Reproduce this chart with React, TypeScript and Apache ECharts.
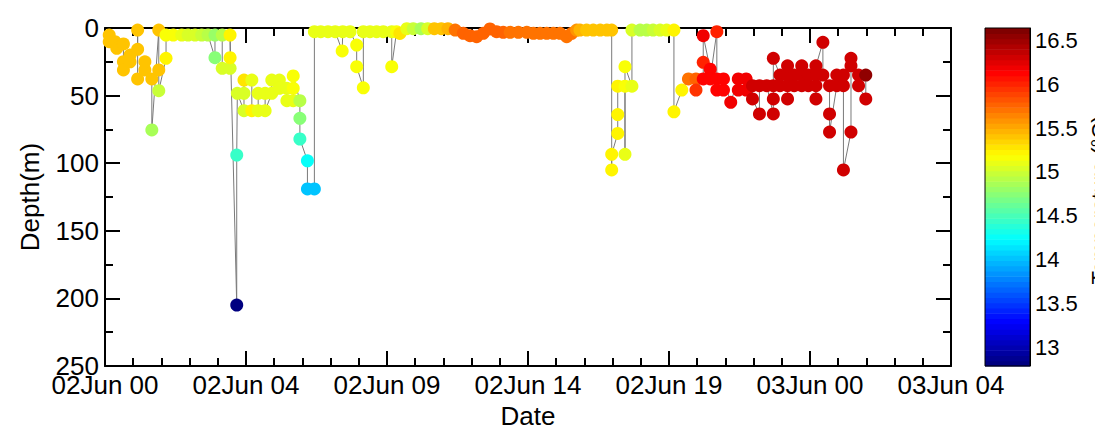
import React, { useEffect, useRef } from "react";
import * as echarts from "echarts";

// ---- axis / tick labels ----
const xTickLabels = ["02Jun 00", "02Jun 04", "02Jun 09", "02Jun 14", "02Jun 19", "03Jun 00", "03Jun 04"];
const xMaxMinutes = 1680; // 28 hours span
const xTickStepMinutes = 280;
const colorbarTicks = [13, 13.5, 14, 14.5, 15, 15.5, 16, 16.5];
const colorbarLabel = "Temperature (°C)";
const CMIN = 12.79;
const CMAX = 16.64;
const N_LEVELS = 64;

// ---- data: hours since 02Jun 00, depth (m), temperature (°C) ----
const timeH = [
  0.14, 0.14, 0.33, 0.39, 0.61, 0.61, 0.61, 0.83, 0.83, 1.08, 1.08, 1.08, 1.32, 1.32, 1.55, 1.55, 1.78, 1.78, 1.78, 2.02, 2.02,
  2.26, 2.54, 2.75, 2.98, 3.2, 3.41, 3.64, 3.64, 3.88, 3.88, 4.14, 4.14, 4.14, 4.36, 4.36, 4.38,
  4.6, 4.6, 4.6, 4.86, 4.86, 5.07, 5.07, 5.3, 5.3, 5.52, 5.52, 5.77, 5.77, 6.02, 6.02, 6.23, 6.23, 6.23, 6.45, 6.45, 6.45, 6.7, 6.7, 6.93, 6.93,
  7.14, 7.38, 7.62, 7.85, 7.87, 8.11, 8.33, 8.33, 8.55, 8.55, 8.77, 8.99, 9.21, 9.49, 9.49, 9.65, 9.76,
  9.99, 10.2, 10.46, 10.68, 10.9, 11.13, 11.35, 11.59,
  11.86, 12.08, 12.3, 12.52, 12.74, 12.96, 13.18, 13.41, 13.68, 13.96, 14.18, 14.4, 14.62, 14.84, 15.06, 15.28, 15.45, 15.61,
  15.72, 15.94, 16.16, 16.39, 16.61, 16.77, 16.77, 16.77, 16.97, 16.97, 16.97, 17.21, 17.21, 17.21, 17.44, 17.44, 17.71, 17.93, 18.14, 18.37, 18.59, 18.83, 18.83, 19.09,
  19.31, 19.56, 19.56, 19.8, 19.8, 19.8, 20.03, 20.03, 20.25, 20.25, 20.25, 20.47, 20.47, 20.71, 20.96, 20.96, 21.22, 21.22, 21.43, 21.43, 21.66, 21.66, 21.9,
  22.12, 22.12, 22.12, 22.12, 22.34, 22.34, 22.59, 22.59, 22.59, 22.59, 22.81, 22.81, 23.06, 23.06, 23.06, 23.28, 23.28, 23.53, 23.53, 23.53, 23.53,
  23.76, 23.76, 23.98, 23.98, 23.98, 24.22, 24.22, 24.44, 24.44, 24.44, 24.69, 24.69, 24.69, 24.94, 24.94, 25.18, 25.18,
];

const depthM = [
  5.2, 10.1, 10.1, 15.0, 11.8, 24.9, 31.0, 25.0, 20.0, 15.8, 1.5, 37.7, 31.0, 25.0, 37.7, 75.4, 1.5, 31.0, 46.4, 22.4, 5.2,
  5.2, 5.2, 5.2, 5.2, 5.2, 5.2, 22.0, 5.2, 5.2, 29.8, 29.8, 22.0, 5.2, 204.9, 94.0, 48.3,
  61.2, 48.3, 38.5, 38.5, 61.2, 61.2, 48.3, 48.3, 61.2, 48.3, 38.5, 38.5, 44.6, 44.6, 53.8, 53.8, 44.6, 35.5, 53.8, 66.8, 82.1, 98.2, 119.0, 119.0, 2.7,
  2.7, 2.7, 2.7, 17.0, 2.7, 2.7, 12.6, 28.6, 44.2, 2.7, 2.7, 2.7, 2.7, 2.7, 28.6, 2.7, 4.0,
  0.5, 0.5, 0.5, 0.5, 0.5, 0.5, 0.5, 1.5,
  3.9, 5.7, 6.4, 3.9, 0.7, 2.7, 3.2, 3.2, 3.2, 3.2, 3.9, 3.9, 3.9, 3.9, 3.9, 6.4, 3.9, 1.5,
  1.5, 1.5, 1.5, 1.5, 1.5, 1.5, 105.0, 93.4, 78.0, 64.0, 43.0, 43.0, 93.4, 28.6, 43.0, 1.5, 1.5, 1.5, 1.5, 1.5, 1.5, 1.5, 62.0, 45.9,
  37.7, 37.7, 45.9, 37.7, 25.4, 5.7, 30.5, 37.7, 2.7, 37.7, 45.9, 45.9, 37.7, 55.0, 37.7, 45.9, 45.9, 37.7, 42.7, 52.5, 63.6, 42.7, 42.7,
  63.6, 52.5, 42.7, 22.4, 34.8, 42.7, 42.7, 52.5, 34.8, 28.0, 34.8, 42.7, 42.7, 34.8, 28.0, 34.8, 42.7, 42.7, 52.5, 34.8, 28.0,
  10.6, 34.8, 42.7, 63.6, 77.0, 42.7, 34.8, 34.8, 42.7, 105.0, 77.0, 28.0, 22.4, 34.8, 42.7, 52.5, 34.8,
];

const tempC = [
  15.38, 15.38, 15.38, 15.38, 15.38, 15.38, 15.38, 15.38, 15.38, 15.38, 15.38, 15.38, 15.38, 15.38, 15.38, 14.85, 15.38, 15.38, 15.0, 15.22, 15.15,
  15.15, 15.08, 15.05, 15.05, 15.0, 14.9, 14.75, 14.82, 14.95, 15.05, 15.05, 15.22, 15.25, 12.85, 14.42, 15.05,
  15.05, 15.05, 15.3, 15.08, 15.25, 15.08, 15.08, 15.08, 15.08, 15.08, 15.08, 15.1, 15.12, 15.12, 15.12, 15.12, 15.15, 15.18, 14.9, 14.72, 14.45, 14.25, 14.05, 14.05, 15.12,
  15.12, 15.12, 15.12, 15.15, 15.12, 15.12, 15.15, 15.15, 15.15, 15.12, 15.12, 15.12, 15.12, 15.12, 15.15, 15.15, 15.3,
  15.12, 14.97, 14.85, 15.02, 15.38, 15.42, 15.45, 15.72,
  15.78, 15.78, 15.76, 15.76, 15.74, 15.74, 15.74, 15.72, 15.72, 15.72, 15.7, 15.7, 15.7, 15.7, 15.7, 15.72, 15.68, 15.6,
  15.45, 15.42, 15.4, 15.4, 15.4, 15.4, 15.2, 15.22, 15.2, 15.2, 15.2, 15.15, 15.08, 15.15, 15.08, 15.05, 14.93, 14.9, 15.0, 15.05, 15.1, 15.2, 15.2, 15.22,
  15.68, 15.75, 15.92, 16.15, 15.98, 16.2, 16.15, 16.15, 15.98, 16.15, 16.15, 16.15, 16.15, 16.17, 16.18, 16.18, 16.2, 16.2, 16.28, 16.28, 16.28, 16.28, 16.28,
  16.28, 16.28, 16.28, 16.28, 16.28, 16.28, 16.28, 16.28, 16.28, 16.28, 16.28, 16.28, 16.28, 16.28, 16.28, 16.28, 16.28, 16.28, 16.28, 16.28, 16.28,
  16.28, 16.28, 16.28, 16.28, 16.28, 16.28, 16.28, 16.28, 16.28, 16.28, 16.28, 16.28, 16.28, 16.28, 16.28, 16.3, 16.54,
];

const FONT = "'Liberation Sans', Arial, sans-serif";

function clamp01(v: number) {
  return Math.max(0, Math.min(1, v));
}
function jetLevel(idx: number) {
  const u = idx / (N_LEVELS - 1);
  const r = clamp01(Math.min(4 * u - 1.5, -4 * u + 4.5));
  const g = clamp01(Math.min(4 * u - 0.5, -4 * u + 3.5));
  const b = clamp01(Math.min(4 * u + 0.5, -4 * u + 2.5));
  return `rgb(${Math.round(r * 255)},${Math.round(g * 255)},${Math.round(b * 255)})`;
}
function jetColor(t: number) {
  const v = clamp01((t - CMIN) / (CMAX - CMIN));
  const idx = Math.min(N_LEVELS - 1, Math.floor(v * N_LEVELS));
  return jetLevel(idx);
}

export default function App() {
  const ref = useRef<HTMLDivElement>(null);
  useEffect(() => {
    document.body.style.margin = "0";
    const chart = echarts.init(ref.current as HTMLDivElement, null, { renderer: "svg" });

    const lineData = timeH.map((h, i) => [h * 60, depthM[i]]);
    const scatterData = timeH.map((h, i) => ({
      value: [h * 60, depthM[i], tempC[i]],
      itemStyle: { color: jetColor(tempC[i]), opacity: 1 },
    }));
    const levels = Array.from({ length: N_LEVELS }, (_, i) => [i]);
    const step = (CMAX - CMIN) / N_LEVELS;

    const axisLineStyle = { color: "#000", width: 2 };
    const xCommon = {
      type: "value" as const,
      gridIndex: 0,
      min: 0,
      max: xMaxMinutes,
      interval: xTickStepMinutes,
      axisLine: { show: true, onZero: false, lineStyle: axisLineStyle },
      axisTick: { show: true, inside: true, length: 15, lineStyle: axisLineStyle },
      minorTick: { show: true, splitNumber: 5, length: 8, lineStyle: axisLineStyle },
      splitLine: { show: false },
      minorSplitLine: { show: false },
    };
    const yCommon = {
      type: "value" as const,
      gridIndex: 0,
      min: 0,
      max: 250,
      interval: 50,
      inverse: true,
      axisLine: { show: true, onZero: false, lineStyle: axisLineStyle },
      axisTick: { show: true, inside: true, length: 15, lineStyle: axisLineStyle },
      minorTick: { show: true, splitNumber: 2, length: 8, lineStyle: axisLineStyle },
      splitLine: { show: false },
      minorSplitLine: { show: false },
    };

    const option: any = {
      animation: false,
      backgroundColor: "#fff",
      textStyle: { fontFamily: FONT },
      grid: [
        { left: 105, top: 28, width: 846, height: 338, outerBoundsMode: "none" },
        {
          left: 985,
          top: 28,
          width: 45,
          height: 338,
          show: true,
          borderColor: "#000",
          borderWidth: 1,
          backgroundColor: "transparent",
          z: 5,
          outerBoundsMode: "none",
        },
      ],
      xAxis: [
        {
          ...xCommon,
          position: "bottom",
          axisLabel: {
            show: true,
            fontSize: 26,
            color: "#000",
            fontFamily: FONT,
            margin: 6,
            showMinLabel: true,
            showMaxLabel: true,
            formatter: (v: number) => xTickLabels[Math.round(v / xTickStepMinutes)] ?? "",
          },
          name: "Date",
          nameLocation: "middle",
          nameGap: 37,
          nameTextStyle: { fontSize: 26, color: "#000", fontFamily: FONT },
        },
        { ...xCommon, position: "top", axisLabel: { show: false } },
        { type: "value", gridIndex: 1, min: 0, max: 1, show: false },
      ],
      yAxis: [
        {
          ...yCommon,
          position: "left",
          axisLabel: { show: true, fontSize: 26, color: "#000", fontFamily: FONT, margin: 6 },
          name: "Depth(m)",
          nameLocation: "middle",
          nameGap: 62,
          nameRotate: 90,
          nameTextStyle: { fontSize: 26, color: "#000", fontFamily: FONT },
        },
        { ...yCommon, position: "right", axisLabel: { show: false } },
        {
          type: "value",
          gridIndex: 1,
          min: CMIN,
          max: CMAX,
          position: "right",
          axisLine: { show: true, onZero: false, lineStyle: { color: "#000", width: 1 } },
          axisTick: {
            show: true,
            inside: true,
            length: 4,
            customValues: colorbarTicks,
            lineStyle: { color: "#000", width: 1 },
          },
          axisLabel: {
            show: true,
            customValues: colorbarTicks,
            fontSize: 22,
            color: "#000",
            fontFamily: FONT,
            margin: 5,
          },
          splitLine: { show: false },
        },
      ],
      graphic: [
        {
          type: "text",
          x: 1099,
          y: 200,
          rotation: Math.PI / 2,
          style: {
            text: colorbarLabel,
            fontSize: 22,
            fontFamily: FONT,
            fill: "#000",
            align: "center",
            verticalAlign: "middle",
          },
        },
      ],
      series: [
        {
          type: "line",
          xAxisIndex: 0,
          yAxisIndex: 0,
          data: lineData,
          symbol: "none",
          showSymbol: false,
          lineStyle: { color: "#7a7a7a", width: 1 },
          silent: true,
          z: 2,
        },
        {
          type: "scatter",
          xAxisIndex: 0,
          yAxisIndex: 0,
          data: scatterData,
          symbol: "circle",
          symbolSize: 13,
          itemStyle: { opacity: 1 },
          clip: false,
          silent: true,
          z: 3,
        },
        {
          type: "custom",
          xAxisIndex: 2,
          yAxisIndex: 2,
          data: levels,
          silent: true,
          z: 2,
          renderItem: (params: any, api: any) => {
            const i = api.value(0);
            const lo = CMIN + i * step;
            const hi = lo + step;
            const p1 = api.coord([0, hi]);
            const p2 = api.coord([1, lo]);
            return {
              type: "rect",
              shape: { x: p1[0], y: p1[1], width: p2[0] - p1[0], height: p2[1] - p1[1] + 0.6 },
              style: { fill: jetLevel(i) },
            };
          },
        },
      ],
    };

    chart.setOption(option);
    return () => chart.dispose();
  }, []);
  return <div ref={ref} style={{ width: 1095, height: 428 }} />;
}
